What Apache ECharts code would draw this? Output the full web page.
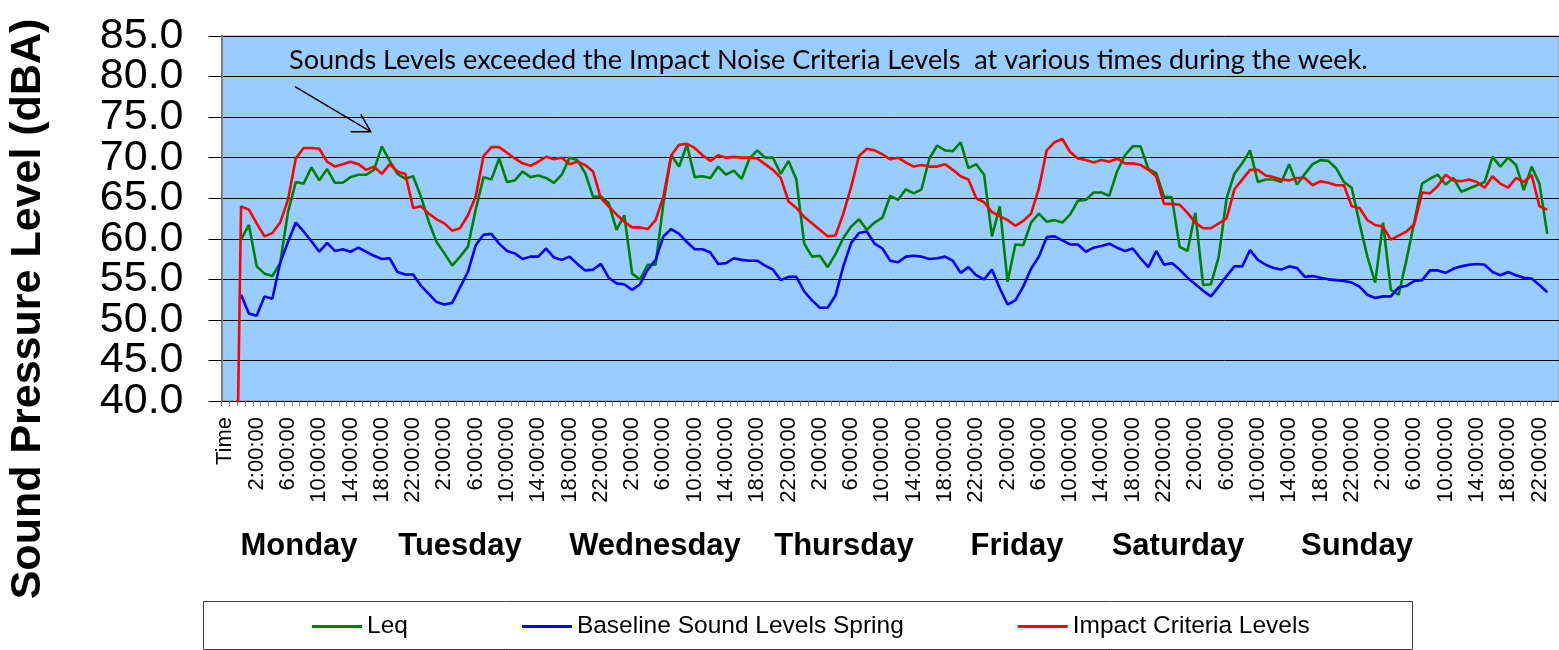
<!DOCTYPE html>
<html>
<head>
<meta charset="utf-8">
<script src="https://cdn.jsdelivr.net/npm/echarts@6/dist/echarts.min.js"></script>
<style>
html,body{margin:0;padding:0;background:#fff;}
#chart{width:1559px;height:650px;}
</style>
</head>
<body>
<div id="chart"></div>
<script>
// ---------------- DATA ----------------
const dayLabels = ["Monday","Tuesday","Wednesday","Thursday","Friday","Saturday","Sunday"];
const yTicks = [40,45,50,55,60,65,70,75,80,85];
const seriesNames = ["Leq","Baseline Sound Levels Spring","Impact Criteria Levels"];
const annotation = "Sounds Levels exceeded the Impact Noise Criteria Levels  at various times during the week.";
const yTitle = "Sound Pressure Level (dBA)";

// hourly values, Monday 0:00 ... Sunday 23:00
const leq = [
59.9,61.7,56.6,55.7,55.4,57.0,63.3,67.0,66.8,68.8,67.2,68.6,66.9,66.9,67.6,67.9,67.9,68.5,71.4,69.6,68.0,67.4,67.7,65.2,
62.1,59.6,58.2,56.7,57.8,59.0,63.6,67.6,67.3,69.9,67.0,67.2,68.3,67.6,67.8,67.5,66.9,67.9,70.0,69.7,68.1,65.2,65.2,64.4,
61.1,62.9,55.7,55.0,56.8,56.8,64.4,70.3,68.9,71.6,67.6,67.7,67.5,68.9,67.9,68.4,67.4,69.9,70.9,70.0,70.0,68.0,69.6,67.3,
59.4,57.8,57.9,56.5,58.1,60.1,61.5,62.4,61.1,62.0,62.6,65.3,64.8,66.1,65.6,66.1,69.9,71.5,70.9,70.8,71.9,68.7,69.2,67.9,
60.3,64.0,54.7,59.3,59.2,62.0,63.1,62.1,62.3,62.0,63.0,64.7,64.8,65.7,65.7,65.3,68.3,70.3,71.4,71.4,68.6,68.1,65.2,65.1,
59.0,58.5,63.2,54.3,54.4,57.8,65.0,68.0,69.3,70.9,67.0,67.3,67.3,67.0,69.2,66.7,68.0,69.2,69.7,69.6,68.7,67.0,66.3,61.9,
57.8,54.6,62.0,53.7,53.1,57.4,62.1,66.8,67.4,67.9,66.7,67.5,65.8,66.2,66.6,67.0,70.1,68.9,70.0,69.1,66.0,68.9,66.8,60.6
];
const baseline = [
53.1,50.8,50.5,52.9,52.6,57.0,59.6,62.0,60.9,59.7,58.4,59.5,58.5,58.7,58.4,58.9,58.4,57.9,57.5,57.6,55.9,55.6,55.6,54.2,
53.2,52.2,51.9,52.1,54.0,55.9,59.2,60.5,60.6,59.4,58.5,58.2,57.5,57.8,57.8,58.8,57.7,57.4,57.8,56.9,56.1,56.2,56.9,55.2,
54.5,54.4,53.7,54.4,56.2,57.4,60.3,61.2,60.6,59.6,58.7,58.7,58.3,56.9,57.0,57.6,57.4,57.3,57.3,56.7,56.2,54.9,55.3,55.3,
53.5,52.4,51.5,51.5,53.0,56.6,59.5,60.7,60.9,59.4,58.8,57.3,57.1,57.8,57.9,57.8,57.5,57.6,57.8,57.3,55.8,56.5,55.5,55.0,
56.2,53.9,51.9,52.4,54.1,56.3,57.8,60.2,60.3,59.8,59.3,59.3,58.4,58.9,59.1,59.4,58.9,58.5,58.8,57.6,56.5,58.5,56.8,57.0,
56.2,55.2,54.4,53.6,52.9,54.1,55.4,56.6,56.6,58.6,57.4,56.8,56.4,56.2,56.6,56.4,55.3,55.4,55.2,55.0,54.9,54.8,54.6,54.1,
53.1,52.7,52.9,52.9,54.0,54.2,54.8,54.9,56.1,56.1,55.8,56.3,56.6,56.8,56.9,56.8,55.9,55.5,55.9,55.5,55.2,55.1,54.3,53.4
];
const impact = [
64.0,63.6,61.9,60.3,60.7,62.0,64.8,69.9,71.2,71.2,71.1,69.5,68.9,69.2,69.5,69.2,68.5,68.9,68.0,69.2,68.3,68.0,63.8,64.0,
63.1,62.4,61.9,61.0,61.3,62.9,65.2,70.2,71.3,71.3,70.6,69.9,69.3,69.0,69.5,70.1,69.8,70.0,69.2,69.5,69.1,68.3,65.0,64.0,
63.0,62.1,61.4,61.4,61.2,62.3,65.2,70.3,71.6,71.7,71.2,70.3,69.6,70.3,70.0,70.1,70.0,70.0,69.9,69.2,68.5,67.5,64.6,63.8,
62.7,61.9,61.1,60.3,60.4,63.1,66.4,70.2,71.1,70.9,70.4,69.8,70.0,69.4,68.9,69.1,68.9,68.9,69.2,68.5,67.7,67.3,65.0,64.5,
63.3,62.8,62.3,61.6,62.2,63.1,66.2,70.9,71.9,72.3,70.7,69.9,69.7,69.4,69.7,69.5,69.9,69.3,69.3,69.1,68.5,67.7,64.3,64.3,
64.2,63.2,62.0,61.3,61.3,61.9,62.5,66.1,67.3,68.5,68.5,67.8,67.6,67.3,67.2,67.5,67.5,66.6,67.1,66.9,66.6,66.6,64.0,63.8,
62.3,61.7,61.5,59.9,60.4,60.9,61.8,65.7,65.6,66.5,67.9,67.2,67.1,67.3,67.0,66.3,67.7,66.8,66.3,67.5,67.0,67.9,64.0,63.6
];
// the header row of the sheet ("Time") and the empty row after it
const headerRows = ["Time", ""];
const impactHeaderValues = [null, 0];
const otherHeaderValues = [null, null];

// ---------------- BUILD ----------------
const hours = [];
for (let d = 0; d < 7; d++) for (let h = 0; h < 24; h++) hours.push(h + ":00:00");
const categories = headerRows.concat(hours, [""]);

const leqData = otherHeaderValues.concat(leq, [null]);
const baseData = otherHeaderValues.concat(baseline, [null]);
const impData = impactHeaderValues.concat(impact, [null]);

const FONT = "'Liberation Sans', Arial, Helvetica, sans-serif";
const ANNO_FONT = "Lato, 'Open Sans', sans-serif";

function fitFont(text, family, weight, targetW) {
  const c = document.createElement('canvas').getContext('2d');
  c.font = weight + ' 100px ' + family;
  return 100 * targetW / c.measureText(text).width;
}

const chart = echarts.init(document.getElementById('chart'), null, {renderer: 'canvas'});

const gridLeft = 221.5, gridTop = 36, gridH = 365;
const catW = 7.836;
const gridW = catW * categories.length;

function lineSeries(name, data, color) {
  return {
    name: name, type: 'line', data: data,
    showSymbol: false, symbol: 'none',
    lineStyle: {color: color, width: 2.6},
    itemStyle: {color: color},
    connectNulls: false, clip: true, animation: false
  };
}

chart.setOption({
  animation: false,
  backgroundColor: '#fff',
  grid: {
    left: gridLeft, top: gridTop, width: gridW, height: gridH,
    show: true, backgroundColor: '#99CCFF', borderColor: '#999', borderWidth: 1,
    containLabel: false
  },
  legend: {
    left: 312, top: 614, padding: 0,
    itemWidth: 50, itemHeight: 3, itemGap: 114,
    icon: 'rect',
    textStyle: {fontFamily: FONT, fontSize: 24.5, color: '#000'},
    data: seriesNames
  },
  xAxis: {
    type: 'category', data: categories, boundaryGap: true,
    axisLine: {show: true, lineStyle: {color: '#000', width: 1}},
    axisTick: {show: true, interval: 0, length: 5, lineStyle: {color: '#808080', width: 1}},
    axisLabel: {interval: 3, rotate: 90, margin: 16, fontFamily: FONT, fontSize: 22, color: '#000'},
    splitLine: {show: false}
  },
  yAxis: {
    type: 'value', min: yTicks[0], max: yTicks[yTicks.length - 1], interval: 5,
    axisLine: {show: true, lineStyle: {color: '#808080', width: 2}},
    axisTick: {show: true, length: 13, lineStyle: {color: '#000', width: 1}},
    axisLabel: {show: false},
    splitLine: {show: true, lineStyle: {color: '#000', width: 1}}
  },
  series: [
    lineSeries(seriesNames[0], leqData, '#008000'),
    lineSeries(seriesNames[1], baseData, '#0000FF'),
    lineSeries(seriesNames[2], impData, '#FF0000')
  ]
});

// ---------------- TEXT / ANNOTATIONS ----------------
const annoSize = fitFont(annotation, ANNO_FONT, 'normal', 1079);
const dayX = [299, 460, 655, 844, 1017, 1178, 1357];
const graphics = [];
// y tick labels placed through the value axis scale (all shown, as in the reference)
yTicks.forEach(v => {
  const py = chart.convertToPixel({yAxisIndex: 0}, v);
  graphics.push({
    type: 'text', x: gridLeft - 38, y: py,
    style: {text: v.toFixed(1), font: '43px ' + FONT, fill: '#000', textAlign: 'right', textVerticalAlign: 'middle'}
  });
});
// y axis title
graphics.push({
  type: 'text', x: 28, y: 309, rotation: Math.PI / 2,
  style: {text: yTitle, font: 'bold 43px ' + FONT, fill: '#000', textAlign: 'center', textVerticalAlign: 'middle'}
});
// day labels
dayLabels.forEach((d, i) => graphics.push({
  type: 'text', x: dayX[i], y: 546,
  style: {text: d, font: 'bold 31px ' + FONT, fill: '#000', textAlign: 'center', textVerticalAlign: 'middle'}
}));
// annotation
graphics.push({
  type: 'text', x: 289, y: 60.5, z: 10,
  style: {text: annotation, font: annoSize.toFixed(2) + 'px ' + ANNO_FONT, fill: '#000', textAlign: 'left', textVerticalAlign: 'middle'}
});
// arrow
graphics.push({
  type: 'polyline', z: 10, shape: {points: [[295, 86.7], [370.7, 131.7]]},
  style: {stroke: '#000', lineWidth: 1.5, fill: null}
});
graphics.push({
  type: 'polyline', z: 10, shape: {points: [[350.7, 131.7], [370.7, 131.7], [360.8, 114.4]]},
  style: {stroke: '#000', lineWidth: 1.5, fill: null}
});
// legend frame
graphics.push({
  type: 'rect', shape: {x: 203.5, y: 601.5, width: 1209, height: 48},
  style: {stroke: '#404040', lineWidth: 1, fill: '#fff'}, z: -1
});

chart.setOption({graphic: graphics});
</script>
</body>
</html>
